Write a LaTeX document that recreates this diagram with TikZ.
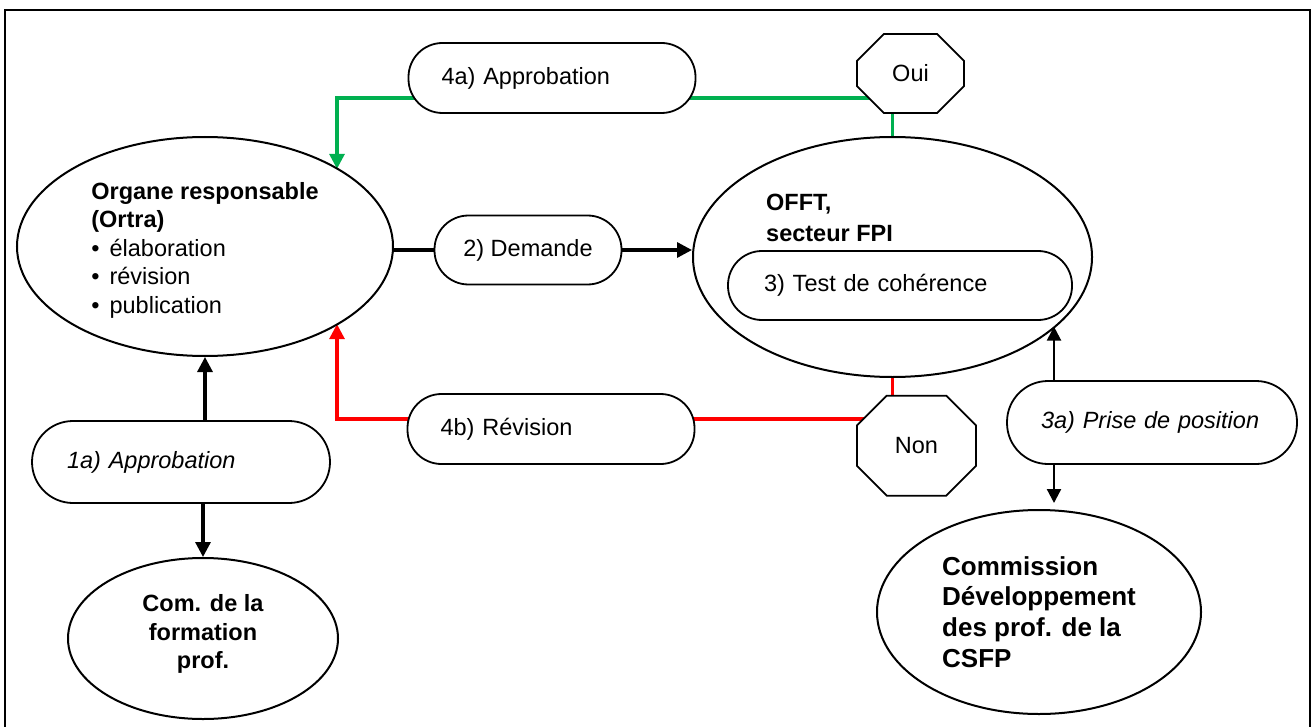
\documentclass[tikz,border=0pt]{standalone}
\usepackage{fontspec}
\setmainfont{Liberation Sans}
\usetikzlibrary{shapes.geometric,shapes.misc,arrows.meta,backgrounds}
\definecolor{okgreen}{RGB}{0,176,80}
\definecolor{nored}{RGB}{255,0,0}
\begin{document}
\begin{tikzpicture}[x=1pt,y=-1pt,
  every node/.style={font=\fontsize{23.5}{28.5}\selectfont},
  boldtxt/.style={font=\fontsize{23.5}{28.5}\selectfont\bfseries},
  itxt/.style={font=\fontsize{23.5}{28.5}\selectfont\itshape},
  oval/.style={ellipse, draw, line width=2pt, fill=white, inner sep=0pt},
  capsule/.style={rectangle, rounded corners=34pt, draw, line width=1.8pt, fill=white, inner ysep=0pt, minimum height=69pt},
  octa/.style={chamfered rectangle, draw, line width=1.8pt, fill=white, inner sep=0pt},
  tipstyle/.style={-{Triangle[width=15pt,length=15pt]}},
  thickarr/.style={line width=3.2pt, tipstyle},
  thinarr/.style={line width=2.3pt, -{Triangle[width=14pt,length=14pt]}},
  greenline/.style={line width=3.2pt, draw=okgreen},
  redline/.style={line width=3.2pt, draw=nored}
]
\clip (0,0) rectangle (1313,727);
\draw[line width=2pt] (5,10) rectangle (1310,760);

% nodes
\node[oval, minimum width=376pt, minimum height=219pt, align=left] (organe) at (205,246.5)
  {\rule{0pt}{24pt}\textbf{Organe responsable}\\\textbf{(Ortra)}\\\textbullet\hspace{10pt}élaboration\\\textbullet\hspace{10pt}révision\\\textbullet\hspace{10pt}publication};
\node[oval, minimum width=399pt, minimum height=240pt] (offt) at (892.5,257) {};
\node[anchor=base west, align=left, inner sep=0pt, font=\fontsize{23.5}{32}\selectfont\bfseries] (offttxt) at (766,242) {OFFT,\\secteur FPI};
\node[capsule, minimum width=344pt, text width=272pt, inner xsep=36pt, align=left] (test) at (900,285.5) {3) Test de cohérence};
\node[capsule, minimum height=70pt, text width=221pt, inner xsep=33pt, align=left] (appr4a) at (552,78) {4a) Approbation};
\node[capsule, minimum height=70pt, text width=221pt, inner xsep=33pt, align=left] (rev4b) at (551,429) {4b) Révision};
\node[capsule, minimum width=187pt] (demande) at (528,250) {2) Demande};
\node[capsule, itxt, rounded corners=41pt, minimum height=82pt, text width=228pt, inner xsep=35pt, align=left] (appr1a) at (181,462) {1a) Approbation};
\node[capsule, itxt, rounded corners=41pt, minimum height=83pt, text width=222pt, inner xsep=34pt, align=left] (prise) at (1152,422.5) {3a) Prise de position};
\node[octa, minimum width=107pt, minimum height=79pt, chamfered rectangle xsep=22pt, chamfered rectangle ysep=22pt] (oui) at (910.5,73.5) {Oui};
\node[octa, minimum width=119pt, minimum height=100pt, chamfered rectangle xsep=29pt, chamfered rectangle ysep=28pt] (non) at (916.5,445.7) {Non};
\node[oval, boldtxt, minimum width=270pt, minimum height=161pt, align=center] (com) at (203,638.5) {Com. de la\\formation\\prof.\rule[-14pt]{0pt}{1pt}};
\node[oval, minimum width=324pt, minimum height=204pt, align=left, font=\fontsize{26}{30.7}\selectfont\bfseries] (csfp) at (1039,612) {Commission\\Développement\\des prof. de la\\CSFP};

\coordinate (gc) at (337,98);
\coordinate (rc) at (337,419);
\coordinate (px) at (1054,0);

\begin{scope}[on background layer]
  \draw[line width=3.2pt] (demande.west -| organe.east) -- (demande.west);
  \draw[thickarr] (demande.east) -- (demande.east -| offt.west);
  \draw[greenline, tipstyle] (oui.center |- gc) -- (gc) -- (gc |- organe.30.6);
  \draw[greenline] (offt.north) -- (oui.south -| offt.north);
  \draw[redline, tipstyle] (non.center |- rc) -- (rc) -- (rc |- organe.-30.6);
  \draw[redline] (offt.south) -- (non.north -| offt.south);
  \draw[thickarr] (appr1a.north -| organe.south) -- (organe.south);
  \draw[thickarr] (appr1a.south -| com.north) -- (com.north);
  \draw[thinarr] (prise.north -| px) -- (px |- offt.-23.6);
  \draw[thinarr, shorten >=6pt] (prise.south -| px) -- (px |- csfp.north);
\end{scope}
\end{tikzpicture}
\end{document}
